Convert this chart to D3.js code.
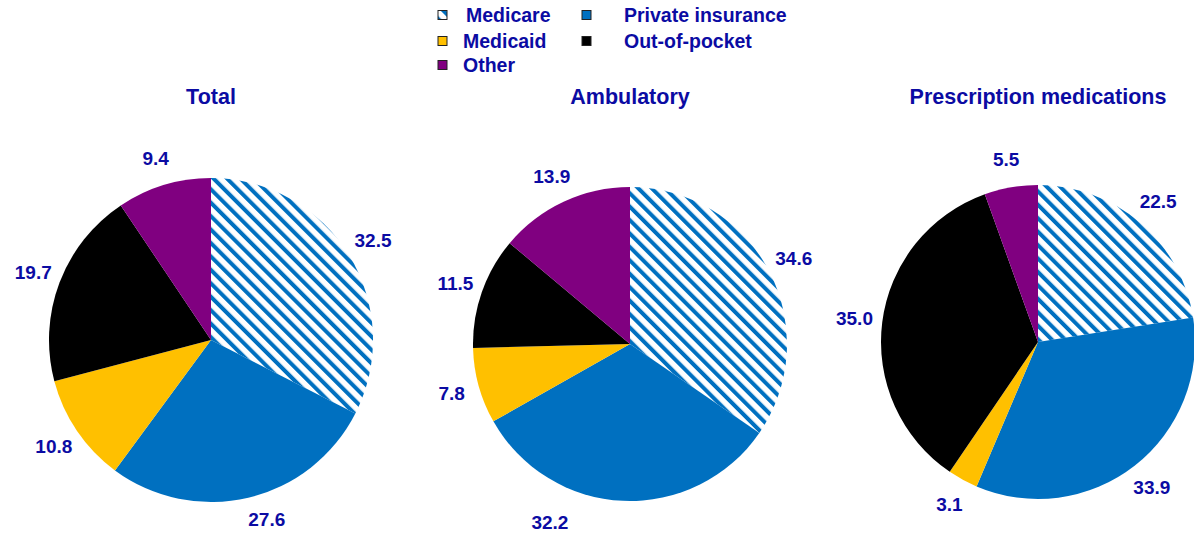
<!DOCTYPE html>
<html>
<head>
<meta charset="utf-8">
<script src="https://cdn.jsdelivr.net/npm/d3@7"></script>
<style>
  body { margin: 0; background: #fff; }
  text { font-family: "Liberation Sans", Arial, sans-serif; font-weight: bold; }
</style>
</head>
<body>
<div id="chart"></div>
<script>
// shares of spending by payer (percent)
const categories = ["Medicare", "Private insurance", "Medicaid", "Out-of-pocket", "Other"];
const panelTitles = ["Total", "Ambulatory", "Prescription medications"];
const totalShares = [32.5, 27.6, 10.8, 19.7, 9.4];
const ambulatoryShares = [34.6, 32.2, 7.8, 11.5, 13.9];
const prescriptionShares = [22.5, 33.9, 3.1, 35.0, 5.5];

const allShares = [totalShares, ambulatoryShares, prescriptionShares];

var width = 1194, height = 533;
var textColor = "#0b0ba3";

// layout of the three pies
var pieX = [211, 630, 1038],
    pieY = [340, 344, 342],
    pieR = [162, 157, 157];

// a couple of labels sit off their slice in the original
var labelNudge = {
    "Ambulatory|Private insurance": [-72, -6],
    "Total|Private insurance": [12, -6]
};

var color = d3.scaleOrdinal()
    .domain(categories)
    .range(["url(#medicareStripes)", "#0070c0", "#ffc000", "#000000", "#800080"]);

var svg = d3.select("#chart")
    .append("svg")
    .attr("width", width)
    .attr("height", height);

// diagonal stripes for Medicare
var defs = svg.append("defs");
var pat = defs.append("pattern")
    .attr("id", "medicareStripes")
    .attr("patternUnits", "userSpaceOnUse")
    .attr("width", 9.5)
    .attr("height", 9.5)
    .attr("patternTransform", "rotate(-45)");
pat.append("rect").attr("width", 9.5).attr("height", 9.5).attr("fill", "#fff");
pat.append("rect").attr("width", 4).attr("height", 9.5).attr("fill", "#0070c0");

var pie = d3.pie().sort(null).value(d => d);

panelTitles.forEach(function (title, i) {
    var g = svg.append("g")
        .attr("transform", "translate(" + pieX[i] + "," + pieY[i] + ")");

    var arc = d3.arc().innerRadius(0).outerRadius(pieR[i]);
    var labelArc = d3.arc().innerRadius(pieR[i] + 28).outerRadius(pieR[i] + 28);
    var arcs = pie(allShares[i]);

    g.selectAll("path")
        .data(arcs)
        .enter()
        .append("path")
        .attr("d", arc)
        .attr("fill", (d, j) => color(categories[j]));

    g.selectAll("text.val")
        .data(arcs)
        .enter()
        .append("text")
        .attr("class", "val")
        .attr("transform", function (d, j) {
            var c = labelArc.centroid(d);
            var n = labelNudge[title + "|" + categories[j]] || [0, 0];
            return "translate(" + (c[0] + n[0]) + "," + (c[1] + n[1]) + ")";
        })
        .attr("text-anchor", "middle")
        .attr("dy", "0.35em")
        .style("font-size", "19px")
        .attr("fill", textColor)
        .text(d => d.value.toFixed(1));

    svg.append("text")
        .attr("x", pieX[i])
        .attr("y", 104)
        .attr("text-anchor", "middle")
        .style("font-size", "21.5px")
        .attr("fill", textColor)
        .text(title);
});

// legend, two columns
var legendCol = [438, 582], legendText = [466, 624], legendRow = [15, 41, 65];
var legendPos = [[0, 0], [1, 0], [0, 1], [1, 1], [0, 2]];

var legend = svg.append("g");
categories.forEach(function (cat, i) {
    var p = legendPos[i];
    legend.append("rect")
        .attr("x", legendCol[p[0]])
        .attr("y", legendRow[p[1]] - 4.5)
        .attr("width", 9)
        .attr("height", 9)
        .attr("fill", color(cat))
        .attr("stroke", "#222")
        .attr("stroke-width", 1);
    legend.append("text")
        .attr("x", legendText[p[0]] - (p[0] == 0 && p[1] > 0 ? 3 : 0))
        .attr("y", legendRow[p[1]])
        .attr("dy", "0.35em")
        .style("font-size", "19.5px")
        .attr("fill", textColor)
        .text(cat);
});
</script>
</body>
</html>
